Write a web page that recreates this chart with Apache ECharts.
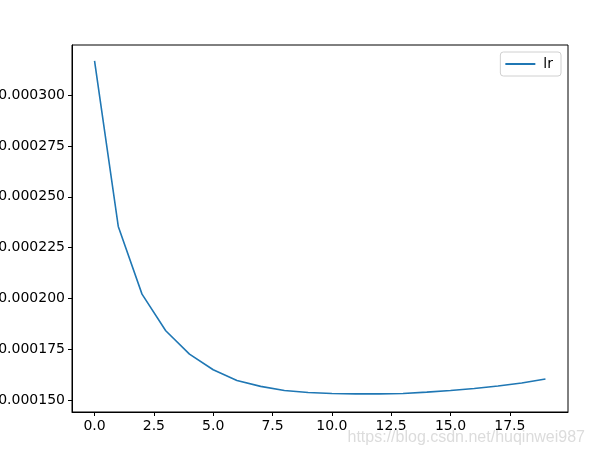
<!DOCTYPE html>
<html>
<head>
<meta charset="utf-8">
<script src="https://cdn.jsdelivr.net/npm/echarts@6/dist/echarts.min.js"></script>
<style>html,body{margin:0;padding:0;background:#fff}#c{width:595px;height:455px}</style>
</head>
<body>
<div id="c"></div>
<script>
var epochs = [0,1,2,3,4,5,6,7,8,9,10,11,12,13,14,15,16,17,18,19];
var lrValues = [0.0003169,0.0002354,0.0002021,0.0001841,0.0001726,0.0001649,0.0001596,0.0001567,0.0001547,0.0001537,0.0001532,0.0001530,0.0001530,0.0001532,0.0001539,0.0001547,0.0001557,0.0001569,0.0001584,0.0001603];
var xTicks = [0,2.5,5,7.5,10,12.5,15,17.5];
var yTicks = [0.00015,0.000175,0.0002,0.000225,0.00025,0.000275,0.0003];
var seriesName = 'lr';

var font = 'DejaVu Sans';
var chart = echarts.init(document.getElementById('c'), null, {renderer:'canvas'});
chart.setOption({
  animation: false,
  backgroundColor: '#fff',
  grid: {left:72, right:27, top:45, bottom:43, containLabel:false, outerBoundsMode:'none',
    show:true, borderColor:'#000', borderWidth:1, backgroundColor:'transparent'},
  legend: {
    data:[seriesName], right:34, top:52, icon:'rect', itemWidth:30, itemHeight:2,
    backgroundColor:'#fff', borderColor:'#d0d0d0', borderWidth:1, borderRadius:3,
    padding:[5,8,5,5],
    textStyle:{fontFamily:font, fontSize:14, color:'#000', padding:[0,0,0,3]}
  },
  xAxis: {
    type:'value', min:-0.95, max:19.95,
    splitLine:{show:false},
    axisLine:{show:true, onZero:false, lineStyle:{color:'#000', width:1}},
    axisTick:{show:true, customValues:xTicks, length:4, lineStyle:{color:'#000'}},
    axisLabel:{customValues:xTicks, margin:7, fontFamily:font, fontSize:14, color:'#000',
      formatter:function(v){return v.toFixed(1);}}
  },
  yAxis: {
    type:'value', min:0.0001441, max:0.0003247,
    splitLine:{show:false},
    axisLine:{show:true, onZero:false, lineStyle:{color:'#000', width:1}},
    axisTick:{show:true, customValues:yTicks, length:4, lineStyle:{color:'#000'}},
    axisLabel:{customValues:yTicks, margin:7, fontFamily:font, fontSize:14, color:'#000',
      formatter:function(v){return v.toFixed(6);}}
  },
  series: [{
    name: seriesName, type:'line', showSymbol:false, symbol:'none',
    data: epochs.map(function(e,i){return [e, lrValues[i]];}),
    lineStyle:{color:'#1f77b4', width:1.6}, itemStyle:{color:'#1f77b4'}
  }],
  graphic: [{
    type:'text', right:10, bottom:9, z:100,
    style:{text:'https://blog.csdn.net/huqinwei987', font:'16px "Liberation Sans"', fill:'#dcdcdc'}
  }]
});
</script>
</body>
</html>
